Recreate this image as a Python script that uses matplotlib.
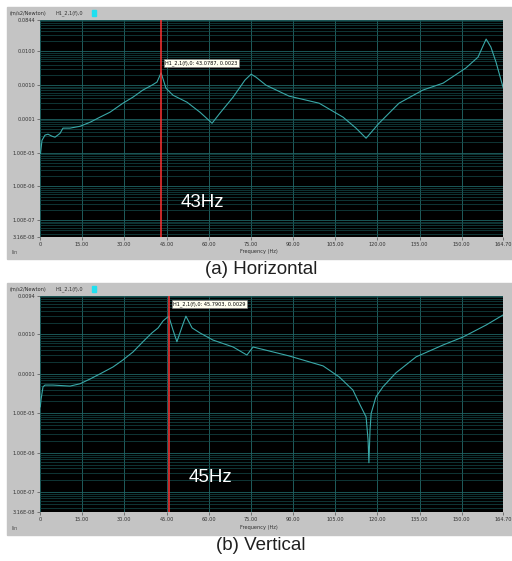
import numpy as np
import matplotlib.pyplot as plt
from matplotlib.patches import Rectangle
from matplotlib.ticker import FixedLocator, LogLocator, NullFormatter

# FRF magnitude, horizontal direction
freq_h = [0.18, 0.71, 1.78, 2.85, 4.27, 5.34, 7.11, 8.18, 10.67, 14.23, 17.79, 21.34,
          24.9, 29.5, 33.1, 36.6, 39.8, 41.6, 43.0787, 44.8, 47.3, 52.3, 56.9, 61.2,
          64.0, 68.7, 72.9, 75.1, 76.8, 80.4, 88.6, 99.3, 107.8, 112.4, 116.0, 120.6,
          127.7, 136.2, 143.4, 151.5, 155.8, 158.7, 160.4, 162.2, 164.7]
mag_h = [9.5e-6, 2.3e-5, 3.3e-5, 3.5e-5, 3.05e-5, 2.85e-5, 3.7e-5, 5.3e-5, 5.3e-5, 6.0e-5,
         7.9e-5, 1.12e-4, 1.57e-4, 2.9e-4, 4.4e-4, 7.1e-4, 9.9e-4, 1.22e-3, 0.0023, 8.1e-4,
         5.0e-4, 3.1e-4, 1.57e-4, 7.4e-5, 1.47e-4, 4.4e-4, 1.4e-3, 2.1e-3, 1.72e-3, 9.9e-4,
         4.7e-4, 2.9e-4, 1.12e-4, 5.3e-5, 2.66e-5, 7.4e-5, 2.9e-4, 7.1e-4, 1.14e-3, 3.2e-3,
         6.7e-3, 0.023, 0.0133, 4.8e-3, 8.7e-4]

# FRF magnitude, vertical direction
freq_v = [0.1, 0.36, 1.07, 1.78, 4.6, 10.7, 14.2, 17.8, 21.3, 26.0, 29.5, 33.1, 36.6, 39.8,
          42.0, 43.8, 45.7903, 47.3, 48.7, 50.5, 51.9, 54.1, 56.9, 61.5, 68.7, 73.6, 75.8,
          88.6, 100.7, 106.4, 111.3, 113.5, 116.0, 116.7, 117.0, 117.4, 117.8, 119.5, 122.0,
          126.6, 133.8, 143.4, 150.5, 158.7, 164.7]
mag_v = [1.46e-5, 2.2e-5, 4.7e-5, 5.2e-5, 5.2e-5, 4.9e-5, 5.6e-5, 7.4e-5, 9.95e-5, 1.5e-4,
         2.25e-4, 3.6e-4, 6.5e-4, 1.09e-3, 1.46e-3, 2.2e-3, 0.0029, 1.3e-3, 6.5e-4, 1.54e-3,
         2.9e-3, 1.46e-3, 1.09e-3, 7.2e-4, 4.8e-4, 3.0e-4, 4.8e-4, 2.85e-4, 1.59e-4, 8.4e-5,
         3.9e-5, 1.84e-5, 8.1e-6, 2.1e-6, 5.6e-7, 3.8e-6, 1.0e-5, 2.6e-5, 4.7e-5, 1.06e-4,
         2.7e-4, 5.4e-4, 8.6e-4, 1.73e-3, 3.1e-3]

cursor_h = (43.0787, 0.0023)
cursor_v = (45.7903, 0.0029)

x_ticks = [0, 15, 30, 45, 60, 75, 90, 105, 120, 135, 150, 164.7]
x_labels = ["0", "15.00", "30.00", "45.00", "60.00", "75.00", "90.00", "105.00",
            "120.00", "135.00", "150.00", "164.70"]
y_ticks_h = [0.0844, 0.01, 0.001, 0.0001, 1e-5, 1e-6, 1e-7, 3.16e-8]
y_labels_h = ["0.0844", "0.0100", "0.0010", "0.0001", "1.00E-05", "1.00E-06",
              "1.00E-07", "3.16E-08"]
y_ticks_v = [0.0094, 0.001, 0.0001, 1e-5, 1e-6, 1e-7, 3.16e-8]
y_labels_v = ["0.0094", "0.0010", "0.0001", "1.00E-05", "1.00E-06", "1.00E-07", "3.16E-08"]

W, H = 512, 561
fig = plt.figure(figsize=(W / 100, H / 100), dpi=100)
fig.patch.set_facecolor("white")
sans = "Liberation Sans"


def fx(px):
    return px / W


def fy(py):
    return 1 - py / H


def panel(top, bot, ax_top, ax_bot, freq, mag, cursor, yt, yl, hz, caption, hz_x, box_y):
    fig.patches.append(Rectangle((fx(7), fy(bot)), fx(505), (bot - top) / H,
                                 transform=fig.transFigure, color="#c4c4c4", zorder=-5))
    ax = fig.add_axes([fx(40), fy(ax_bot), fx(463), (ax_bot - ax_top) / H], zorder=2)
    ax.set_facecolor("black")
    ax.set_yscale("log")
    ax.set_xlim(0, 164.7)
    ax.set_ylim(3.16e-8, yt[0])
    ax.plot(freq, mag, color="#3aa8a8", lw=0.8, zorder=3)
    ax.axvline(cursor[0], color="#ff3333", lw=1.1, zorder=4)

    ax.yaxis.set_major_locator(FixedLocator(yt))
    ax.set_yticklabels(yl)
    ax.yaxis.set_minor_locator(LogLocator(base=10, subs=np.arange(2, 10)))
    ax.yaxis.set_minor_formatter(NullFormatter())
    ax.set_xticks(x_ticks)
    ax.set_xticklabels(x_labels)
    ax.tick_params(axis="both", which="major", labelsize=3.6, labelcolor="#303030",
                   length=2, width=0.5, color="#505050", pad=1.5)
    ax.tick_params(axis="y", which="minor", length=0)
    ax.grid(True, axis="y", which="minor", color="#154a4a", lw=0.5)
    ax.grid(True, axis="y", which="major", color="#1e6464", lw=0.6)
    ax.grid(True, axis="x", which="major", color="#2a8080", lw=0.5)
    for s in ax.spines.values():
        s.set_visible(False)

    ax.annotate(f"H1_2,1(f),0: {cursor[0]:.4f}, {cursor[1]:.4f}",
                xy=(cursor[0], box_y), xytext=(3, 0), textcoords="offset points",
                xycoords=("data", "axes fraction"), fontsize=3.6, color="black",
                va="top", ha="left",
                bbox=dict(boxstyle="square,pad=0.25", fc="#fffff0", ec="#808080", lw=0.4))
    ax.text(hz_x, 0.16, hz, transform=ax.transAxes, color="white", fontsize=13.5,
            family=sans, ha="left", va="center")

    fig.text(fx(10), fy(top + 6), "(m/s2/Newton)", fontsize=3.6, color="#303030",
             va="center")
    fig.text(fx(55), fy(top + 6), "H1_2,1(f),0", fontsize=3.6, color="#303030",
             va="center")
    fig.patches.append(Rectangle((fx(92), fy(top + 9)), fx(4), 6 / H,
                                 transform=fig.transFigure, color="#20e0f0", zorder=2))
    fig.text(fx(240), fy(bot - 8), "Frequency (Hz)", fontsize=3.6, color="#303030",
             ha="left", va="center")
    fig.text(fx(12), fy(bot - 6), "lin", fontsize=3.6, color="#505050", va="center")
    fig.text(fx(261), fy(bot + 10), caption, fontsize=13.5, color="#202020",
             family=sans, ha="center", va="center")
    return ax


panel(7, 259, 20, 237, freq_h, mag_h, cursor_h, y_ticks_h, y_labels_h, "43Hz",
      "(a) Horizontal", 0.304, 0.815)
panel(283, 535, 296, 512, freq_v, mag_v, cursor_v, y_ticks_v, y_labels_v, "45Hz",
      "(b) Vertical", 0.32, 0.975)

fig.savefig("out.png", dpi=100)
